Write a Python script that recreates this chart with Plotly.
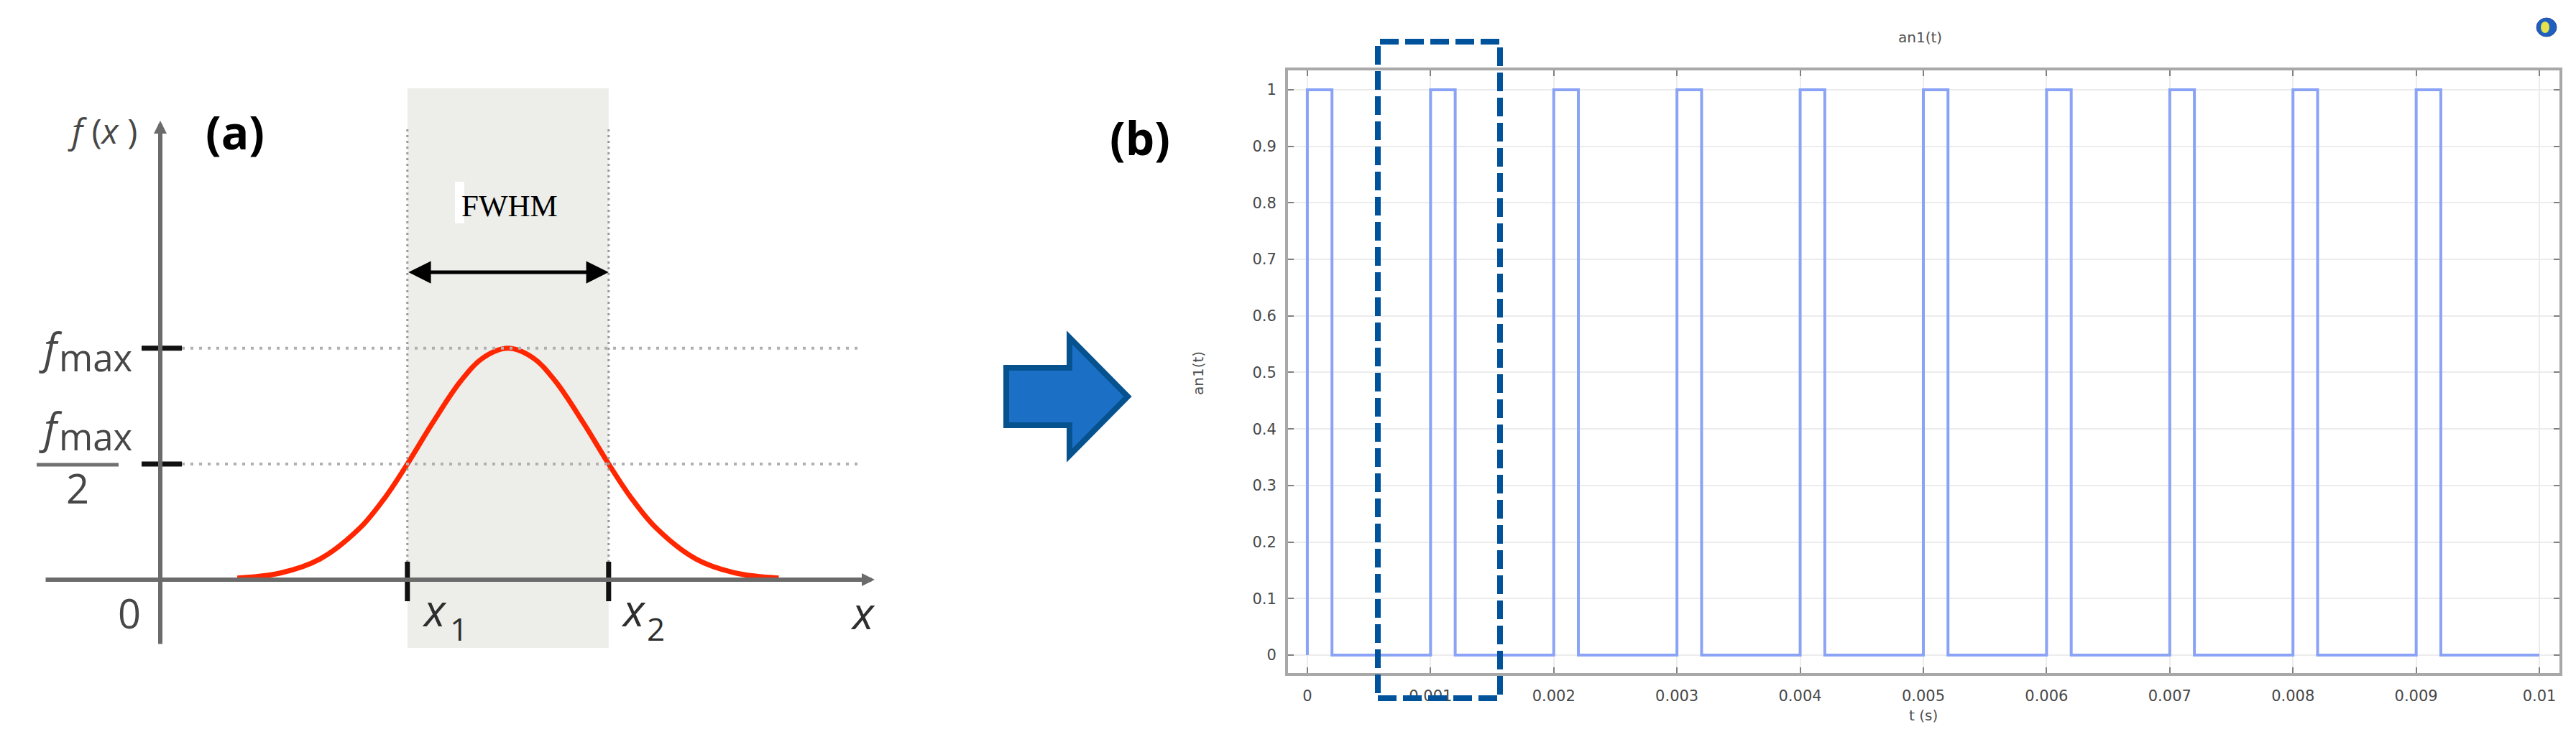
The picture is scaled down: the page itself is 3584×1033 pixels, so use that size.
import plotly.graph_objects as go

W, H = 3584, 1033

# ---------------- Panel (a): schematic Gaussian (logical units, f_max = 1) ----------------
gauss_x = [0.78, 1.20, 1.60, 2.00, 2.25, 2.47, 2.72, 3.00, 3.22, 3.47,
           3.72, 3.94, 4.22, 4.47, 4.69, 4.94, 5.34, 5.74, 6.16]
gauss_f = [0.007, 0.028, 0.089, 0.224, 0.356, 0.500, 0.677, 0.858, 0.958, 1.000,
           0.958, 0.858, 0.677, 0.500, 0.356, 0.224, 0.089, 0.028, 0.007]
x1_val, x2_val = 2.47, 4.47
f_max_val = 1.0
f_half_val = 0.5

# ---------------- Panel (b): pulse train an1(t) ----------------
pulse_on = [0.000, 0.001, 0.002, 0.003, 0.004, 0.005, 0.006, 0.007, 0.008, 0.009]
pulse_off = [0.0002, 0.0012, 0.0022, 0.0032, 0.0042, 0.0052, 0.0062, 0.0072, 0.0082, 0.0092]
t_end = 0.010
t_ticks = [0, 0.001, 0.002, 0.003, 0.004, 0.005, 0.006, 0.007, 0.008, 0.009, 0.010]
t_tick_labels = ["0", "0.001", "0.002", "0.003", "0.004", "0.005",
                 "0.006", "0.007", "0.008", "0.009", "0.01"]
y_ticks = [0, 0.1, 0.2, 0.3, 0.4, 0.5, 0.6, 0.7, 0.8, 0.9, 1.0]
y_tick_labels = ["0", "0.1", "0.2", "0.3", "0.4", "0.5", "0.6", "0.7", "0.8", "0.9", "1"]

# build step series from the read edges
t_vals = [0.0]
a_vals = [0.0]
for on, off in zip(pulse_on, pulse_off):
    t_vals += [on, off]
    a_vals += [1.0, 0.0]
t_vals.append(t_end)
a_vals.append(0.0)


# ---------------- helpers (pixel -> coordinates) ----------------
def PX(px):
    return px / W


def PY(py):
    return 1 - py / H


A_OX, A_OY, A_SX, A_SY = 221.0, 807.0, 140.0, 322.2


def AX(px):
    return (px - A_OX) / A_SX


def AY(py):
    return (A_OY - py) / A_SY


fig = go.Figure()

fig.add_trace(go.Scatter(
    x=gauss_x, y=gauss_f, xaxis="x2", yaxis="y2", mode="lines",
    line=dict(color="#ff2600", width=7, shape="spline"),
    hoverinfo="skip", showlegend=False))

fig.add_trace(go.Scatter(
    x=t_vals, y=a_vals, xaxis="x", yaxis="y", mode="lines",
    line=dict(color="#8aa3f6", width=4, shape="hv"),
    showlegend=False, name="an1(t)"))

tickfont = dict(family="DejaVu Sans", size=21, color="#484848")

fig.update_layout(
    width=W, height=H,
    margin=dict(l=0, r=0, t=0, b=0),
    paper_bgcolor="white",
    plot_bgcolor="rgba(0,0,0,0)",
    showlegend=False,
    xaxis=dict(
        domain=[1792 / W, 3561 / W], range=[-0.000157, 0.010163], anchor="y",
        tickmode="array", tickvals=t_ticks, ticktext=t_tick_labels,
        ticks="inside", ticklen=8, tickwidth=2, tickcolor="#808080",
        showline=True, linecolor="#a8a8a8", linewidth=4, mirror="ticks",
        showgrid=True, gridcolor="#ececec", gridwidth=2, zeroline=False,
        tickfont=tickfont, ticklabelstandoff=10, fixedrange=True),
    yaxis=dict(
        domain=[1 - 937 / H, 1 - 98 / H], range=[-0.0318, 1.0343], anchor="x",
        tickmode="array", tickvals=y_ticks, ticktext=y_tick_labels,
        ticks="inside", ticklen=8, tickwidth=2, tickcolor="#808080",
        showline=True, linecolor="#a8a8a8", linewidth=4, mirror="ticks",
        showgrid=True, gridcolor="#ececec", gridwidth=2, zeroline=False,
        tickfont=tickfont, ticklabelstandoff=8, fixedrange=True),
    xaxis2=dict(domain=[0, 0.36], range=[AX(0), AX(0.36 * W)], anchor="y2",
                visible=False, fixedrange=True),
    yaxis2=dict(domain=[0, 1], range=[AY(H), AY(0)], anchor="x2",
                visible=False, fixedrange=True),
)

shapes = []
# ---- panel (a) shapes ----
shapes.append(dict(type="rect", xref="x2", yref="y2", x0=x1_val, x1=x2_val,
                   y0=AY(902), y1=AY(123), fillcolor="#ededea",
                   line=dict(width=0), layer="below"))
shapes.append(dict(type="rect", xref="x2", yref="y2", x0=AX(633), x1=AX(646),
                   y0=AY(311), y1=AY(253), fillcolor="white",
                   line=dict(width=0), layer="below"))
for xv in (x1_val, x2_val):
    shapes.append(dict(type="line", xref="x2", yref="y2", x0=xv, x1=xv,
                       y0=0, y1=AY(180), line=dict(color="#9a9a9a", width=3, dash="3px,5px")))
for fv in (f_max_val, f_half_val):
    shapes.append(dict(type="line", xref="x2", yref="y2", x0=AX(253), x1=AX(1193),
                       y0=fv, y1=fv, line=dict(color="#b0b0b0", width=4, dash="4px,8px")))
    shapes.append(dict(type="line", xref="x2", yref="y2", x0=AX(197), x1=AX(253),
                       y0=fv, y1=fv, line=dict(color="#111111", width=7)))
for xv in (x1_val, x2_val):
    shapes.append(dict(type="line", xref="x2", yref="y2", x0=xv, x1=xv,
                       y0=AY(837), y1=AY(782), line=dict(color="#111111", width=7)))
# fraction bar
shapes.append(dict(type="line", xref="x2", yref="y2", x0=AX(51), x1=AX(165),
                   y0=AY(647), y1=AY(647), line=dict(color="#707070", width=5)))

# ---- central block arrow ----
arrow_pts = [(1400, 512), (1488, 512), (1488, 470), (1569, 552),
             (1488, 634), (1488, 592), (1400, 592)]
path = "M " + " L ".join(f"{PX(x):.5f},{PY(y):.5f}" for x, y in arrow_pts) + " Z"
shapes.append(dict(type="path", xref="paper", yref="paper", path=path,
                   fillcolor="#1b70c6", line=dict(color="#06528f", width=8)))

# ---- dashed highlight rectangle ----
shapes.append(dict(type="rect", xref="paper", yref="paper",
                   x0=PX(1917), x1=PX(2087), y0=PY(972), y1=PY(58),
                   line=dict(color="#00529b", width=8, dash="26px,9px"),
                   fillcolor="rgba(0,0,0,0)", layer="above"))

# ---- small icon top right ----
shapes.append(dict(type="circle", xref="paper", yref="paper",
                   x0=PX(3529), x1=PX(3557), y0=PY(51), y1=PY(25),
                   fillcolor="#1f5fc0", line=dict(color="#2a4f9a", width=1)))
shapes.append(dict(type="circle", xref="paper", yref="paper",
                   x0=PX(3535), x1=PX(3547), y0=PY(46), y1=PY(30),
                   fillcolor="#e6e24a", line=dict(width=0)))

fig.update_layout(shapes=shapes)

ann = []
# axis arrows for panel (a)
ann.append(dict(xref="x2", yref="y2", axref="x2", ayref="y2",
                x=AX(1217), y=0, ax=AX(62), ay=0, text="", showarrow=True,
                arrowhead=2, arrowsize=0.6, arrowwidth=6, arrowcolor="#6b6b6b"))
ann.append(dict(xref="x2", yref="y2", axref="x2", ayref="y2",
                x=AX(223), y=AY(168), ax=AX(223), ay=AY(898), text="", showarrow=True,
                arrowhead=2, arrowsize=0.6, arrowwidth=6, arrowcolor="#6b6b6b"))
# FWHM double arrow
ann.append(dict(xref="x2", yref="y2", axref="x2", ayref="y2",
                x=x2_val, y=AY(379), ax=x1_val, ay=AY(379), text="", showarrow=True,
                arrowhead=2, startarrowhead=2, arrowside="end+start",
                arrowsize=1.25, startarrowsize=1.25, arrowwidth=5, arrowcolor="#000000"))


def txt(text, px, py, size, family="Open Sans", color="#474747", xanchor="center",
        angle=0):
    return dict(xref="paper", yref="paper", x=PX(px), y=PY(py), text=text,
                showarrow=False, xanchor=xanchor, yanchor="middle", textangle=angle,
                font=dict(family=family, size=size, color=color))


ann.append(txt("<i>f</i> (<i>x</i> )", 142, 182, 48))
ann.append(txt("<b>(a)</b>", 327, 183, 64, color="#000000"))
ann.append(txt("<i>f</i>", 70, 484, 58))
ann.append(txt("max", 80, 497, 51, xanchor="left"))
ann.append(txt("<i>f</i>", 70, 594, 58))
ann.append(txt("max", 80, 607, 51, xanchor="left"))
ann.append(txt("2", 108, 679, 56))
ann.append(txt("0", 180, 853, 56))
ann.append(txt("<i>x</i>", 604, 848, 62, color="#2e2e2e"))
ann.append(txt("1", 638, 875, 44, color="#2e2e2e"))
ann.append(txt("<i>x</i>", 881, 848, 62, color="#2e2e2e"))
ann.append(txt("2", 913, 875, 44, color="#2e2e2e"))
ann.append(txt("<i>x</i>", 1200, 852, 62, color="#2e2e2e"))
ann.append(txt("FWHM", 709, 287, 43, family="Liberation Serif", color="#000000"))

# panel (b) texts
ann.append(txt("<b>(b)</b>", 1586, 192, 64, color="#000000"))
ann.append(txt("an1(t)", 2671, 52, 20, family="DejaVu Sans", color="#505050"))
ann.append(txt("t (s)", 2676, 996, 20, family="DejaVu Sans", color="#505050"))
ann.append(txt("an1(t)", 1667, 520, 20, family="DejaVu Sans", color="#505050", angle=-90))

fig.update_layout(annotations=ann)

fig.write_html("out.html", config={"displayModeBar": False},
               post_script="document.body.style.margin='0';document.body.style.overflow='hidden';")
